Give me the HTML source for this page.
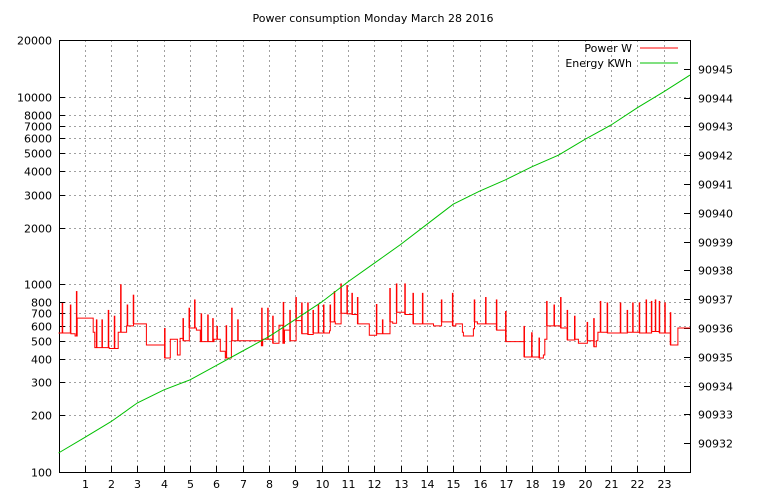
<!DOCTYPE html>
<html><head><meta charset="utf-8"><style>
html,body{margin:0;padding:0;background:#fff;}
svg{display:block;font-family:"DejaVu Sans","Liberation Sans",sans-serif;font-size:11px;}
</style></head><body>
<svg id="chart" width="768" height="500" viewBox="0 0 768 500" xmlns="http://www.w3.org/2000/svg">
<rect width="768" height="500" fill="#fff"/>
<text x="373" y="22" text-anchor="middle" fill="#000">Power consumption Monday March 28 2016</text>
<g id="grid"></g><g id="axes"></g><g id="series"></g>
<g>
<text x="632" y="52" text-anchor="end">Power W</text>
<line x1="640" y1="48" x2="678" y2="48" stroke="#ff0000"/>
<text x="632" y="67" text-anchor="end">Energy KWh</text>
<line x1="640" y1="63" x2="678" y2="63" stroke="#00c000"/>
</g>
</svg>
<script>
const leftTicks=[100,200,300,400,500,600,700,800,1000,2000,3000,4000,5000,6000,7000,8000,10000,20000];
const rightTicks=[90932,90933,90934,90935,90936,90937,90938,90939,90940,90941,90942,90943,90944,90945];
const hourTicks=[1,2,3,4,5,6,7,8,9,10,11,12,13,14,15,16,17,18,19,20,21,22,23];
const stepHours=[0,0.47,0.63,0.71,1.32,1.38,1.93,2.27,2.59,2.85,3.34,4.04,4.25,4.52,4.62,4.74,4.97,5.24,5.39,5.91,6.15,6.34,6.57,7.71,7.76,8.15,8.38,8.53,8.59,8.80,9.03,9.25,9.48,9.68,10.3,10.33,10.52,10.74,10.97,11.16,11.37,11.81,12.09,12.32,12.6,12.7,12.85,13.17,13.48,14.25,14.56,14.98,15.1,15.35,15.39,15.77,15.81,15.92,16.65,17.0,17.7,18.27,18.43,18.48,18.56,19.09,19.34,19.62,19.76,20.1,20.35,20.44,20.5,20.86,21.62,21.83,22.08,22.54,22.69,22.84,23.26,23.54];
const stepVals=[550,545,530,660,555,460,455,555,600,615,475,405,510,420,515,500,585,570,495,510,440,405,500,470,510,485,605,485,570,500,640,545,540,550,565,630,615,700,695,690,615,535,545,545,630,620,710,690,615,600,630,600,615,555,530,580,630,615,570,495,410,405,420,510,600,585,505,510,485,500,465,500,555,550,555,555,550,560,560,550,475,585];
const spikeHours=[0.15,0.46,0.69,1.45,1.66,1.90,2.13,2.37,2.62,2.85,4.04,4.74,4.97,5.18,5.43,5.68,5.87,6.03,6.38,6.59,6.82,7.73,7.96,8.15,8.55,8.80,9.03,9.25,9.48,9.68,9.88,10.08,10.33,10.49,10.74,10.97,11.16,11.37,12.09,12.32,12.6,12.85,13.17,13.48,13.84,14.56,14.98,15.81,16.24,16.65,17.0,17.7,17.99,18.27,18.56,18.84,19.09,19.34,19.62,20.1,20.35,20.6,20.86,21.36,21.62,21.83,22.08,22.34,22.54,22.69,22.84,23.05,23.26];
const spikeVals=[795,780,920,650,650,730,680,1000,780,880,585,660,750,830,700,690,660,600,605,750,650,750,750,680,805,730,855,800,800,730,780,780,780,920,1010,990,900,855,785,650,955,1010,1010,900,900,830,900,830,855,830,720,600,555,520,815,780,855,730,680,630,660,815,800,800,730,800,800,830,815,830,815,800,710];
const energyHours=[0,1,2,3,4,5,6,7,8,9,10,11,12,13,14,15,16,17,18,19,20,21,22,23,24];
const energyVals=[90931.66,90932.2,90932.75,90933.4,90933.85,90934.2,90934.7,90935.2,90935.7,90936.3,90936.9,90937.6,90938.25,90938.9,90939.6,90940.3,90940.75,90941.15,90941.6,90942.0,90942.55,90943.05,90943.65,90944.2,90944.78];

const L=59,R=690,T=40,B=472;
const xS=h=>58.5+h*(R-58.5)/24;
const yL=v=>B-(B-T)*Math.log10(v/100)/Math.log10(200);
const yR=e=>B-(B-T)*(e-90931)/15;
const NS="http://www.w3.org/2000/svg";
function mk(tag,attrs,parent){const e=document.createElementNS(NS,tag);for(const k in attrs)e.setAttribute(k,attrs[k]);parent.appendChild(e);return e;}
const grid=document.getElementById('grid'),axes=document.getElementById('axes'),series=document.getElementById('series');
leftTicks.forEach(v=>{const y=Math.round(yL(v))+0.5;
 if(v>100&&v<20000){const g=mk('line',{x1:L,x2:R,y1:y,y2:y,stroke:'#a0a0a0','stroke-dasharray':'2,3'},grid);
 
 }
 const t=mk('line',{x1:L,x2:L+6,y1:y,y2:y,stroke:'#000'},axes);
 
 
 const lb=mk('text',{x:L-7,y:y+4,'text-anchor':'end'},axes);lb.textContent=v;
 
 });
rightTicks.forEach(e=>{const y=Math.round(yR(e))+0.5;
 const t=mk('line',{x1:R-6,x2:R,y1:y,y2:y,stroke:'#000'},axes);
 
 
 const lb=mk('text',{x:R+8,y:y+4},axes);lb.textContent=e;
 
 });
hourTicks.forEach(h=>{const x=Math.round(xS(h))+0.5;
 const g=mk('line',{x1:x,x2:x,y1:T,y2:B,stroke:'#a0a0a0','stroke-dasharray':'2,3'},grid);
 
 
 const t=mk('line',{x1:x,x2:x,y1:B-6,y2:B,stroke:'#000'},axes);
 
 
 const lb=mk('text',{x:x,y:B+16,'text-anchor':'middle'},axes);lb.textContent=h;
 
 });
const frame=mk('rect',{x:L+0.5,y:T+0.5,width:R-L,height:B-T,fill:'none',stroke:'#000'},axes);


// power path
let d='';
stepHours.forEach((h,i)=>{const x1=xS(h),x2=xS(i+1<stepHours.length?stepHours[i+1]:24),y=yL(stepVals[i]);
 d+=(i===0?'M':'L')+x1.toFixed(1)+','+y.toFixed(1)+'L'+x2.toFixed(1)+','+y.toFixed(1);});
const p=mk('path',{d:d,fill:'none',stroke:'#ff0000','stroke-width':1},series);


spikeHours.forEach((h,i)=>{let bi=0;for(let j=0;j<stepHours.length;j++)if(stepHours[j]<=h)bi=j;
 const x=xS(h);
 const s=mk('line',{x1:x,x2:x,y1:yL(stepVals[bi]),y2:yL(spikeVals[i]),stroke:'#ff0000','stroke-width':1.5},series);
 
 });
let de='';energyHours.forEach((h,i)=>{de+=(i?'L':'M')+xS(h).toFixed(1)+','+yR(energyVals[i]).toFixed(1);});
const en=mk('path',{d:de,fill:'none',stroke:'#00c000','stroke-width':1},series);


</script>
</body></html>
